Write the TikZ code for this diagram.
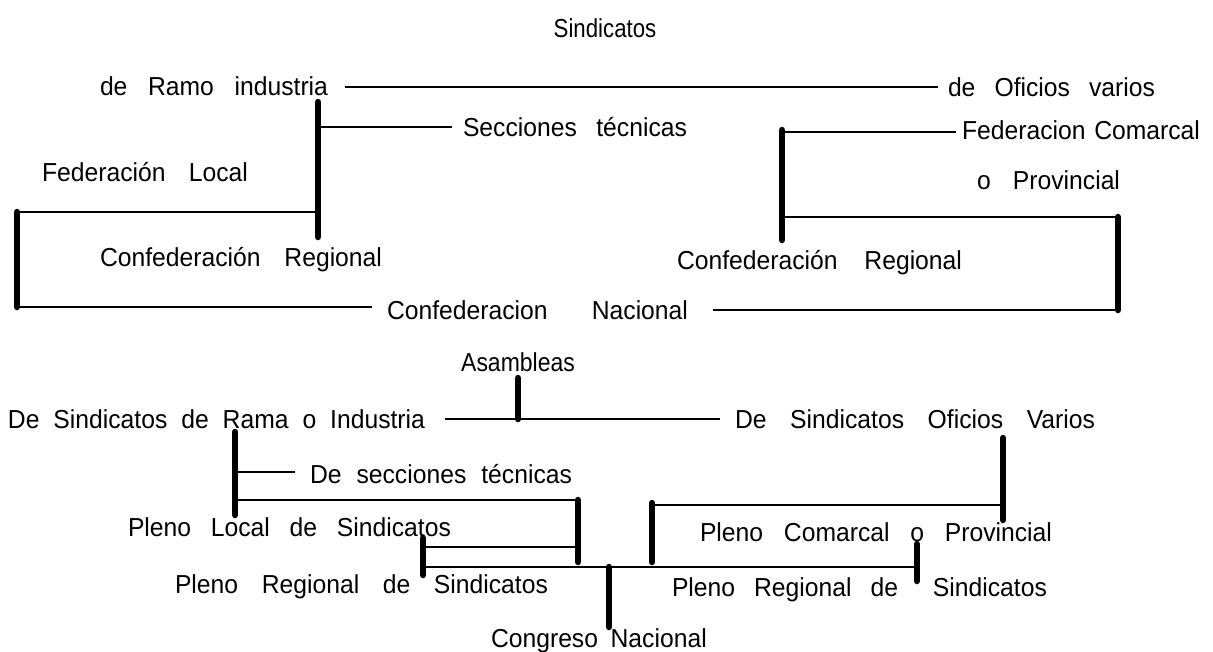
\documentclass[tikz,border=0pt]{standalone}
\usepackage{fontspec}
\setmainfont{Liberation Sans}[FakeStretch=0.95]
\begin{document}
\begin{tikzpicture}[x=1pt,y=-1pt,
  lbl/.style={inner sep=0pt, outer sep=0pt, anchor=base west, font=\fontsize{26}{30}\selectfont},
  ctr/.style={inner sep=0pt, outer sep=0pt, anchor=base, font=\fontsize{26}{30}\selectfont},
  ln/.style={line width=2.6pt},
  thickbar/.style={line width=6.5pt, line cap=round},
]
\useasboundingbox (0,0) rectangle (1213,651);

% ---------- top: Sindicatos ----------
\node[ctr] (sind) at (605,37) {\scalebox{0.9}[1]{Sindicatos}};
\node[lbl] (ramo) at (100,95) {\makebox[228pt][s]{de Ramo industria}};
\node[lbl] (oficios) at (948,96) {\makebox[207pt][s]{de Oficios varios}};
\node[lbl] (secc) at (463,136) {\makebox[224pt][s]{Secciones técnicas}};
\node[lbl] (fedloc) at (42,181) {\makebox[206pt][s]{Federación Local}};
\node[lbl] (confregL) at (100,266) {\makebox[282pt][s]{Confederación Regional}};
\node[lbl] (confnac) at (387,319) {\makebox[301pt][s]{Confederacion Nacional}};
\node[lbl] (fedcom) at (962,139) {\makebox[238pt][s]{Federacion Comarcal}};
\node[lbl] (prov) at (977,189) {\makebox[143pt][s]{o Provincial}};
\node[lbl] (confregR) at (677,269) {\makebox[285pt][s]{Confederación Regional}};

\coordinate (a1) at (345,87);  \coordinate (a2) at (938,87);
\coordinate (v1t) at (318,102); \coordinate (v1b) at (318,237);
\coordinate (s1) at (318,127); \coordinate (s2) at (452,127);
\coordinate (f1) at (318,212); \coordinate (f2) at (17,212);
\coordinate (f3) at (17,307);  \coordinate (f4) at (372,307);
\coordinate (v2t) at (782,130); \coordinate (v2b) at (782,240);
\coordinate (c1) at (782,132); \coordinate (c2) at (956,132);
\coordinate (p1) at (782,217); \coordinate (p2) at (1118,217);
\coordinate (p3) at (1118,310); \coordinate (p4) at (713,310);

\draw[ln] (a1) -- (a2);
\draw[thickbar] (v1t) -- (v1b);
\draw[ln] (s1) -- (s2);
\draw[ln] (f1) -- (f2);
\draw[thickbar] (f2) -- (f3);
\draw[ln] (f3) -- (f4);
\draw[thickbar] (v2t) -- (v2b);
\draw[ln] (c1) -- (c2);
\draw[ln] (p1) -- (p2);
\draw[thickbar] (p2) -- (p3);
\draw[ln] (p3) -- (p4);

% ---------- bottom: Asambleas ----------
\node[ctr] (asamb) at (518,371) {\scalebox{0.93}[1]{Asambleas}};
\node[lbl] (desind) at (8,428) {\makebox[417pt][s]{De Sindicatos de Rama o Industria}};
\node[lbl] (desindof) at (735,428) {\makebox[360pt][s]{De Sindicatos Oficios Varios}};
\node[lbl] (desecc) at (310,483) {\makebox[262pt][s]{De secciones técnicas}};
\node[lbl] (plenoloc) at (128,536) {\makebox[323pt][s]{Pleno Local de Sindicatos}};
\node[lbl] (plenoregL) at (175,593) {\makebox[373pt][s]{Pleno Regional de Sindicatos}};
\node[lbl] (congreso) at (491,647) {\makebox[212pt][s]{Congreso\hspace{8pt} Nacional}};
\node[lbl] (plenocom) at (700,541) {\makebox[352pt][s]{Pleno Comarcal o Provincial}};
\node[lbl] (plenoregR) at (672,596) {\makebox[375pt][s]{Pleno Regional de\hspace{16pt} Sindicatos}};

\coordinate (b1) at (445,419); \coordinate (b2) at (720,419);
\coordinate (av) at (518,378); \coordinate (ab) at (518,419);
\coordinate (lt) at (235,432); \coordinate (lb) at (235,515);
\coordinate (d1) at (235,472); \coordinate (d2) at (295,472);
\coordinate (e1) at (235,500); \coordinate (e2) at (578,500);
\coordinate (e3) at (578,562);
\coordinate (g1) at (423,538); \coordinate (g2) at (423,575);
\coordinate (h1) at (423,547); \coordinate (h2) at (578,547);
\coordinate (k1) at (423,567); \coordinate (k2) at (917,567);
\coordinate (nt) at (609,567); \coordinate (nb) at (609,627);
\coordinate (ot) at (1003,438); \coordinate (ob) at (1003,520);
\coordinate (m1) at (1003,505); \coordinate (m2) at (652,505);
\coordinate (mt) at (652,503); \coordinate (mb) at (652,562);
\coordinate (qt) at (917,544); \coordinate (qb) at (917,581);

\draw[ln] (b1) -- (b2);
\draw[thickbar] (av) -- (ab);
\draw[thickbar] (lt) -- (lb);
\draw[ln] (d1) -- (d2);
\draw[ln] (e1) -- (e2);
\draw[thickbar] (e2) -- (e3);
\draw[thickbar] (g1) -- (g2);
\draw[ln] (h1) -- (h2);
\draw[ln] (k1) -- (k2);
\draw[thickbar] (nt) -- (nb);
\draw[thickbar] (ot) -- (ob);
\draw[ln] (m1) -- (m2);
\draw[thickbar] (mt) -- (mb);
\draw[thickbar] (qt) -- (qb);
\end{tikzpicture}
\end{document}
